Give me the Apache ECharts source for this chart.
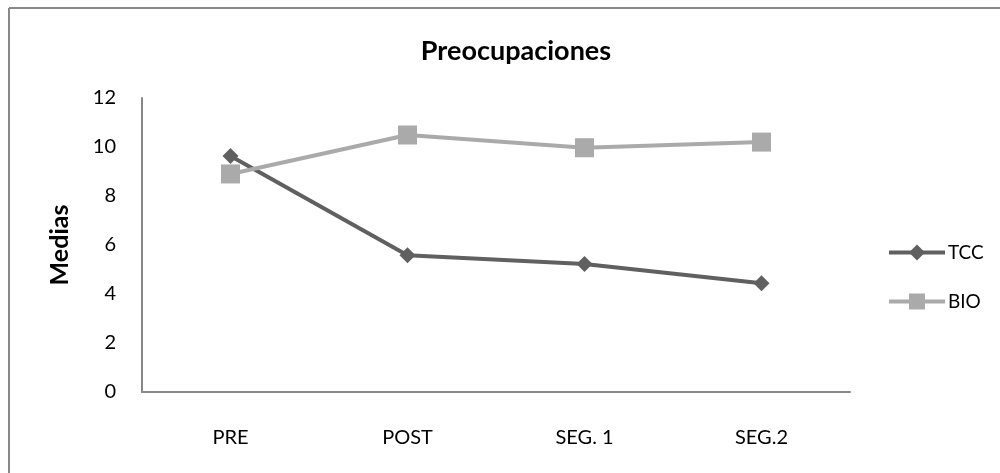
<!DOCTYPE html>
<html><head><meta charset="utf-8">
<script src="https://cdn.jsdelivr.net/npm/echarts@6/dist/echarts.min.js"></script>
<style>html,body{margin:0;padding:0;background:#fff}#c{width:1000px;height:473px}</style>
</head><body><div id="c"></div>
<script>
const categories = ['PRE', 'POST', 'SEG. 1', 'SEG.2'];
const tcc = [9.63, 5.58, 5.22, 4.44];
const bio = [8.9, 10.49, 9.97, 10.2];
const yTicks = [0, 2, 4, 6, 8, 10, 12];

const font = 'Lato, "Open Sans", sans-serif';
const chart = echarts.init(document.getElementById('c'));
chart.setOption({
  animation: false,
  backgroundColor: '#fff',
  graphic: [
    {type: 'line', shape: {x1: 9, y1: 8, x2: 1000, y2: 8}, style: {stroke: '#888', lineWidth: 2}},
    {type: 'line', shape: {x1: 9, y1: 8, x2: 9, y2: 473}, style: {stroke: '#888', lineWidth: 2}}
  ],
  title: {text: 'Preocupaciones', left: 511, top: 33, textAlign: 'center',
    textStyle: {fontFamily: font, fontSize: 27, fontWeight: 'bold', color: '#000'}},
  legend: {orient: 'vertical', left: 882, top: 238, itemWidth: 56, itemHeight: 20, itemGap: 30,
    lineStyle: {width: 4},
    textStyle: {fontFamily: font, fontSize: 19, color: '#000', padding: [0, 0, 0, -2]},
    data: ['TCC', 'BIO']},
  grid: {left: 142, right: 150, top: 98, bottom: 81},
  xAxis: {type: 'category', data: categories, boundaryGap: true,
    axisLine: {lineStyle: {color: '#888', width: 2}}, axisTick: {show: false},
    axisLabel: {fontFamily: font, fontSize: 20, color: '#000', margin: 36}},
  yAxis: {type: 'value', min: 0, max: 12, interval: 2, name: 'Medias', nameLocation: 'middle', nameGap: 70,
    nameTextStyle: {fontFamily: font, fontSize: 25, fontWeight: 'bold', color: '#000'},
    axisLine: {show: true, lineStyle: {color: '#888', width: 2}}, axisTick: {show: false},
    splitLine: {show: false},
    axisLabel: {fontFamily: font, fontSize: 20, color: '#000', margin: 26,
      formatter: v => yTicks.includes(v) ? String(v) : ''}},
  series: [
    {name: 'TCC', type: 'line', data: tcc, symbol: 'diamond', symbolSize: 16,
      lineStyle: {color: '#606060', width: 4}, itemStyle: {color: '#606060'}},
    {name: 'BIO', type: 'line', data: bio, symbol: 'rect', symbolSize: 19, z: 3,
      lineStyle: {color: '#aaaaaa', width: 4}, itemStyle: {color: '#aaaaaa'}}
  ]
});
</script></body></html>
